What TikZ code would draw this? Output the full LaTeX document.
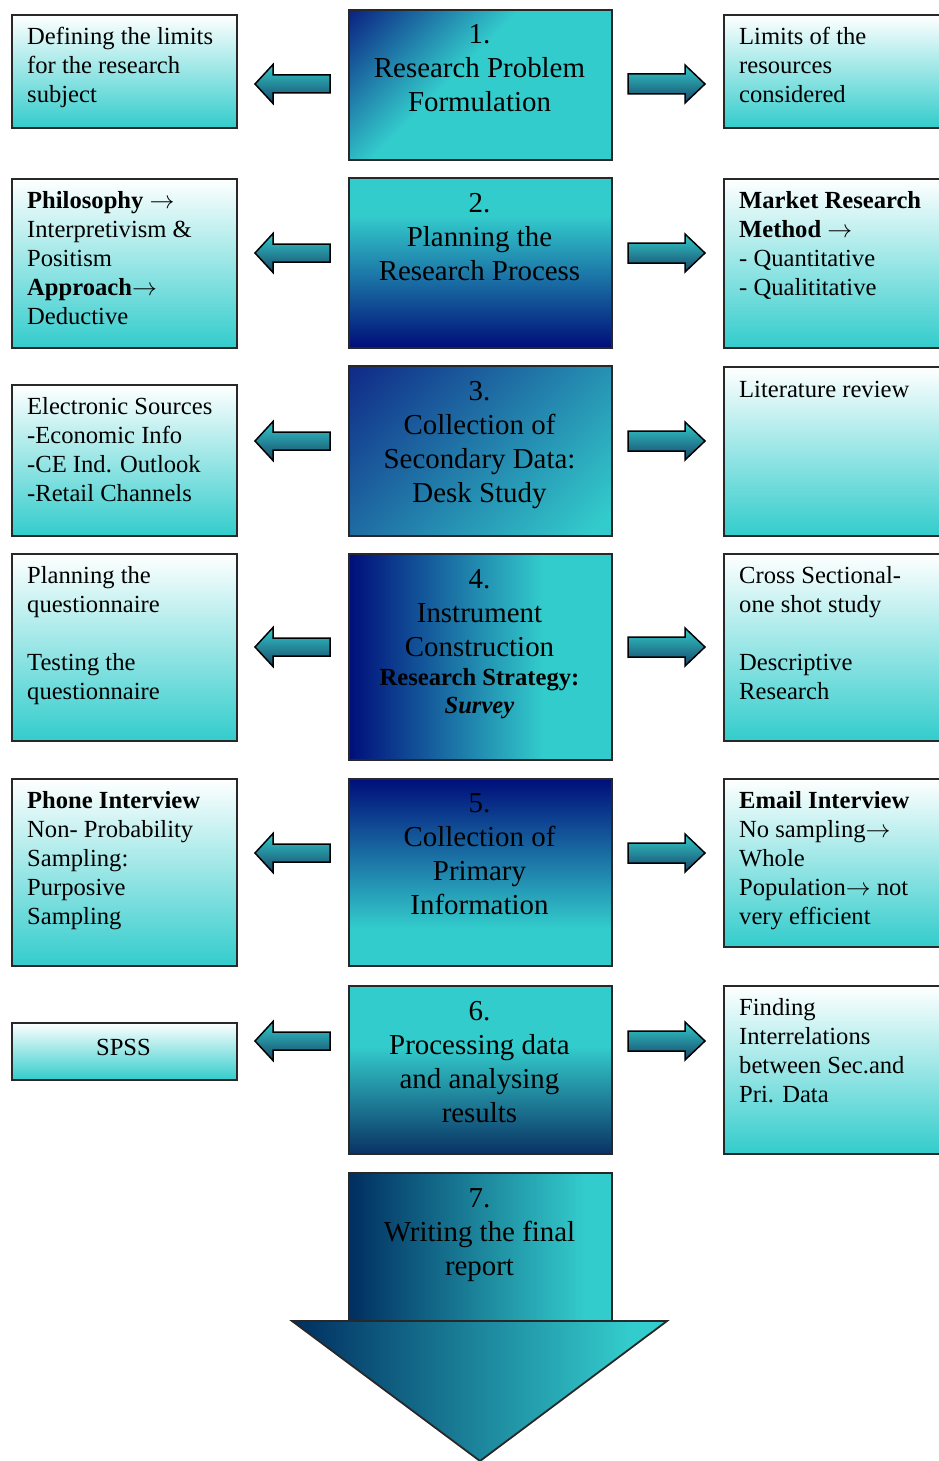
\documentclass[tikz,border=0pt]{standalone}
\usepackage{fontspec}
\setmainfont{Liberation Serif}
\definecolor{tealA}{RGB}{51,204,204}
\definecolor{navyA}{RGB}{0,14,122}
\definecolor{navyB}{RGB}{0,46,96}
\definecolor{navyC}{RGB}{10,30,128}
\definecolor{navyD}{RGB}{16,42,135}
\definecolor{navyE}{RGB}{10,50,100}
\definecolor{arrowdk}{RGB}{22,70,104}
\definecolor{edgeA}{RGB}{40,40,40}
\pgfdeclareverticalshading{sidegrad}{100bp}{color(0bp)=(tealA); color(25bp)=(tealA); color(75bp)=(white); color(100bp)=(white)}
\pgfdeclareverticalshading{arrowgrad}{100bp}{color(0bp)=(arrowdk); color(25bp)=(arrowdk); color(75bp)=(tealA); color(100bp)=(tealA)}
\pgfdeclarehorizontalshading{onegrad}{100bp}{color(0bp)=(navyC); color(14bp)=(navyC); color(44bp)=(tealA); color(100bp)=(tealA)}
\pgfdeclareverticalshading{twograd}{100bp}{color(0bp)=(navyA); color(25bp)=(navyA); color(64bp)=(tealA); color(100bp)=(tealA)}
\pgfdeclarehorizontalshading{threegrad}{100bp}{color(0bp)=(navyD); color(15bp)=(navyD); color(82bp)=(tealA); color(100bp)=(tealA)}
\pgfdeclarehorizontalshading{fourgrad}{100bp}{color(0bp)=(navyA); color(25bp)=(navyA); color(62bp)=(tealA); color(100bp)=(tealA)}
\pgfdeclareverticalshading{fivegrad}{100bp}{color(0bp)=(tealA); color(35bp)=(tealA); color(75bp)=(navyA); color(100bp)=(navyA)}
\pgfdeclareverticalshading{sixgrad}{100bp}{color(0bp)=(navyE); color(25bp)=(navyE); color(57bp)=(tealA); color(100bp)=(tealA)}
\pgfdeclarehorizontalshading{sevengrad}{100bp}{color(0bp)=(navyB); color(25bp)=(navyB); color(70bp)=(tealA); color(100bp)=(tealA)}
\newcommand\blkarrowL[1]{\draw[blkarrow] (330,#1-9) -- (273,#1-9) -- (273,#1-19.5) -- (255,#1) -- (273,#1+19.5) -- (273,#1+9) -- (330,#1+9) -- cycle;}
\newcommand\blkarrowR[1]{\draw[blkarrow] (628,#1-10) -- (685,#1-10) -- (685,#1-19) -- (705,#1) -- (685,#1+19) -- (685,#1+10) -- (628,#1+10) -- cycle;}
\tikzset{
  sidebox/.style={draw=edgeA, line width=1.8pt, shade, shading=sidegrad, rectangle, inner sep=0pt, anchor=north west},
  cbox/.style={draw=edgeA, line width=1.8pt, shade, rectangle, inner sep=0pt, anchor=north west, minimum width=263},
  blkarrow/.style={draw=black, line width=1.5pt, line join=miter, shade, shading=arrowgrad},
  sidetext/.style={anchor=north west, inner sep=0pt, align=left, font=\fontsize{24.6}{29}\selectfont},
  ctext/.style={anchor=north, inner sep=0pt, align=center, font=\fontsize{28.9}{34}\selectfont},
}
\begin{document}
\begin{tikzpicture}[x=1pt,y=-1pt]
\useasboundingbox (0,0) rectangle (939,1461);
\clip (0,0) rectangle (939,1461);
\fill[white] (0,0) rectangle (939,1461);

% centre boxes
\node[cbox, shading=onegrad, shading angle=-45, minimum height=150] (c1) at (348,9) {};
\node[cbox, shading=twograd, minimum height=170] (c2) at (348,177) {};
\node[cbox, shading=threegrad, shading angle=-45, minimum height=170] (c3) at (348,365) {};
\node[cbox, shading=fourgrad, minimum height=206] (c4) at (348,553) {};
\node[cbox, shading=fivegrad, minimum height=187] (c5) at (348,778) {};
\node[cbox, shading=sixgrad, minimum height=168] (c6) at (348,985) {};
\node[cbox, shading=sevengrad, minimum height=149] (c7) at (348,1172) {};
\coordinate (tl) at (292,1321);
\coordinate (tr) at (667,1321);
\coordinate (tb) at (480,1461);
\draw[draw=edgeA, line width=1.8pt, shade, shading=sevengrad] (tl) -- (tr) -- (tb) -- cycle;

% left boxes
\node[sidebox, minimum width=225, minimum height=113] (l1) at (11,14) {};
\node[sidebox, minimum width=225, minimum height=169] (l2) at (11,178) {};
\node[sidebox, minimum width=225, minimum height=151] (l3) at (11,384) {};
\node[sidebox, minimum width=225, minimum height=187] (l4) at (11,553) {};
\node[sidebox, minimum width=225, minimum height=187] (l5) at (11,778) {};
\node[sidebox, minimum width=225, minimum height=57] (l6) at (11,1022) {};

% right boxes
\node[sidebox, minimum width=240, minimum height=113] (r1) at (723,14) {};
\node[sidebox, minimum width=240, minimum height=169] (r2) at (723,178) {};
\node[sidebox, minimum width=240, minimum height=169] (r3) at (723,366) {};
\node[sidebox, minimum width=240, minimum height=187] (r4) at (723,553) {};
\node[sidebox, minimum width=240, minimum height=168] (r5) at (723,778) {};
\node[sidebox, minimum width=240, minimum height=168] (r6) at (723,985) {};

% block arrows
\blkarrowL{84}\blkarrowR{84}
\blkarrowL{253}\blkarrowR{253}
\blkarrowL{441}\blkarrowR{441}
\blkarrowL{647}\blkarrowR{647}
\blkarrowL{853}\blkarrowR{853}
\blkarrowL{1041}\blkarrowR{1041}

% centre texts
\node[ctext] (t1) at (479.5,43-23.8) {\strut 1.\\Research Problem\\Formulation};
\node[ctext] (t2) at (479.5,212-23.8) {\strut 2.\\Planning the\\Research Process};
\node[ctext] (t3) at (479.5,400-23.8) {\strut 3.\\Collection of\\Secondary Data:\\Desk Study};
\node[ctext] (t4) at (479.5,588-23.8) {\strut 4.\\Instrument\\Construction};
\node[ctext, font=\fontsize{24.6}{28.5}\selectfont\bfseries] (t4b) at (479.5,685-20) {\strut Research Strategy:\\\textit{Survey}};
\node[ctext] (t5) at (479.5,812-23.8) {\strut 5.\\Collection of\\Primary\\Information};
\node[ctext] (t6) at (479.5,1020-23.8) {\strut 6.\\Processing data\\and analysing\\results};
\node[ctext] (t7) at (479.5,1207-23.8) {\strut 7.\\Writing the final\\report};

% left texts
\node[sidetext] (lt1) at (27,44-20.3) {\strut Defining the limits\\for the research\\subject};
\node[sidetext] (lt2) at (27,208-20.3) {\strut\textbf{Philosophy} $\rightarrow$\\Interpretivism \&\\Positism\\\textbf{Approach}$\rightarrow$\\Deductive};
\node[sidetext] (lt3) at (27,414-20.3) {\strut Electronic Sources\\-Economic Info\\-CE Ind. Outlook\\-Retail Channels};
\node[sidetext] (lt4) at (27,583-20.3) {\strut Planning the\\questionnaire\\[29pt]Testing the\\questionnaire};
\node[sidetext] (lt5) at (27,808-20.3) {\strut\textbf{Phone Interview}\\Non- Probability\\Sampling:\\Purposive\\Sampling};
\node[sidetext, anchor=north, align=center] (lt6) at (123.5,1055-20.3) {\strut SPSS};

% right texts
\node[sidetext] (rt1) at (739,44-20.3) {\strut Limits of the\\resources\\considered};
\node[sidetext] (rt2) at (739,208-20.3) {\strut\textbf{Market Research}\\\textbf{Method} $\rightarrow$\\- Quantitative\\- Qualititative};
\node[sidetext] (rt3) at (739,397-20.3) {\strut Literature review};
\node[sidetext] (rt4) at (739,583-20.3) {\strut Cross Sectional-\\one shot study\\[29pt]Descriptive\\Research};
\node[sidetext] (rt5) at (739,808-20.3) {\strut\textbf{Email Interview}\\No sampling$\rightarrow$\\Whole\\Population$\rightarrow$ not\\very efficient};
\node[sidetext] (rt6) at (739,1015-20.3) {\strut Finding\\Interrelations\\between Sec.and\\Pri. Data};
\end{tikzpicture}
\end{document}
